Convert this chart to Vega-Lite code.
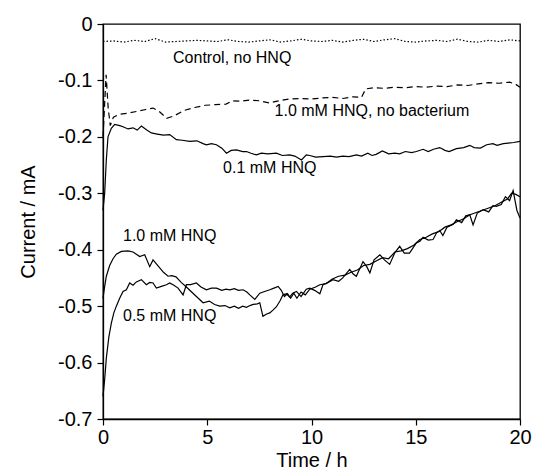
{
  "$schema": "https://vega.github.io/schema/vega-lite/v6.json",
  "autosize": "none",
  "padding": {"left": 103, "top": 24, "right": 13, "bottom": 56},
  "width": 417,
  "height": 395,
  "background": "white",
  "config": {
    "locale": {"number": {"decimal": ".", "thousands": ",", "grouping": [3], "currency": ["$", ""], "minus": "-"}},
    "view": {"stroke": "#000000", "strokeWidth": 1.3},
    "font": "Liberation Sans",
    "axis": {
      "grid": false,
      "labelFlush": false,
      "domainColor": "#000000",
      "domainWidth": 1.3,
      "tickColor": "#000000",
      "tickWidth": 1.2,
      "tickSize": 6,
      "labelColor": "#000000",
      "labelFont": "Liberation Sans",
      "labelFontSize": 20,
      "titleFont": "Liberation Sans",
      "titleFontSize": 20,
      "titleFontWeight": "normal",
      "titleColor": "#000000"
    }
  },
  "datasets": {
    "curves": [
      {"t": 0, "i": -0.031, "s": "control"}, {"t": 0.5, "i": -0.030, "s": "control"}, {"t": 1, "i": -0.032, "s": "control"}, {"t": 1.5, "i": -0.029, "s": "control"}, {"t": 2, "i": -0.031, "s": "control"}, {"t": 2.5, "i": -0.026, "s": "control"}, {"t": 3, "i": -0.032, "s": "control"}, {"t": 3.5, "i": -0.031, "s": "control"}, {"t": 4, "i": -0.030, "s": "control"}, {"t": 4.5, "i": -0.029, "s": "control"}, {"t": 5, "i": -0.030, "s": "control"}, {"t": 5.5, "i": -0.031, "s": "control"}, {"t": 6, "i": -0.028, "s": "control"}, {"t": 6.5, "i": -0.031, "s": "control"}, {"t": 7, "i": -0.032, "s": "control"}, {"t": 7.5, "i": -0.030, "s": "control"}, {"t": 8, "i": -0.028, "s": "control"}, {"t": 8.5, "i": -0.032, "s": "control"}, {"t": 9, "i": -0.030, "s": "control"}, {"t": 9.5, "i": -0.027, "s": "control"}, {"t": 10, "i": -0.030, "s": "control"}, {"t": 10.5, "i": -0.031, "s": "control"}, {"t": 11, "i": -0.029, "s": "control"}, {"t": 11.5, "i": -0.032, "s": "control"}, {"t": 12, "i": -0.029, "s": "control"}, {"t": 12.5, "i": -0.027, "s": "control"}, {"t": 13, "i": -0.031, "s": "control"}, {"t": 13.5, "i": -0.028, "s": "control"}, {"t": 14, "i": -0.026, "s": "control"}, {"t": 14.5, "i": -0.031, "s": "control"}, {"t": 15, "i": -0.032, "s": "control"}, {"t": 15.5, "i": -0.030, "s": "control"}, {"t": 16, "i": -0.029, "s": "control"}, {"t": 16.5, "i": -0.031, "s": "control"}, {"t": 17, "i": -0.027, "s": "control"}, {"t": 17.5, "i": -0.031, "s": "control"}, {"t": 18, "i": -0.032, "s": "control"}, {"t": 18.5, "i": -0.029, "s": "control"}, {"t": 19, "i": -0.031, "s": "control"}, {"t": 19.5, "i": -0.028, "s": "control"}, {"t": 20, "i": -0.030, "s": "control"},

      {"t": 0, "i": -0.20, "s": "nobact"}, {"t": 0.08, "i": -0.14, "s": "nobact"}, {"t": 0.15, "i": -0.09, "s": "nobact"}, {"t": 0.25, "i": -0.15, "s": "nobact"}, {"t": 0.35, "i": -0.18, "s": "nobact"}, {"t": 0.5, "i": -0.165, "s": "nobact"}, {"t": 0.8, "i": -0.16, "s": "nobact"}, {"t": 1.2, "i": -0.158, "s": "nobact"}, {"t": 1.6, "i": -0.155, "s": "nobact"}, {"t": 2.0, "i": -0.152, "s": "nobact"}, {"t": 2.4, "i": -0.149, "s": "nobact"}, {"t": 2.7, "i": -0.155, "s": "nobact"}, {"t": 3.05, "i": -0.167, "s": "nobact"}, {"t": 3.4, "i": -0.163, "s": "nobact"}, {"t": 3.9, "i": -0.153, "s": "nobact"}, {"t": 4.4, "i": -0.148, "s": "nobact"}, {"t": 4.9, "i": -0.144, "s": "nobact"}, {"t": 5.4, "i": -0.143, "s": "nobact"}, {"t": 5.9, "i": -0.142, "s": "nobact"}, {"t": 6.2, "i": -0.136, "s": "nobact"}, {"t": 6.6, "i": -0.137, "s": "nobact"}, {"t": 7.0, "i": -0.135, "s": "nobact"}, {"t": 7.5, "i": -0.136, "s": "nobact"}, {"t": 8.0, "i": -0.14, "s": "nobact"}, {"t": 8.3, "i": -0.137, "s": "nobact"}, {"t": 8.9, "i": -0.133, "s": "nobact"}, {"t": 9.5, "i": -0.132, "s": "nobact"}, {"t": 10.0, "i": -0.133, "s": "nobact"}, {"t": 10.5, "i": -0.131, "s": "nobact"}, {"t": 11.0, "i": -0.130, "s": "nobact"}, {"t": 11.5, "i": -0.132, "s": "nobact"}, {"t": 12.0, "i": -0.129, "s": "nobact"}, {"t": 12.4, "i": -0.13, "s": "nobact"}, {"t": 12.6, "i": -0.115, "s": "nobact"}, {"t": 13.0, "i": -0.113, "s": "nobact"}, {"t": 13.5, "i": -0.114, "s": "nobact"}, {"t": 14.0, "i": -0.112, "s": "nobact"}, {"t": 14.5, "i": -0.113, "s": "nobact"}, {"t": 15.0, "i": -0.111, "s": "nobact"}, {"t": 15.5, "i": -0.112, "s": "nobact"}, {"t": 16.0, "i": -0.110, "s": "nobact"}, {"t": 16.5, "i": -0.111, "s": "nobact"}, {"t": 17.0, "i": -0.108, "s": "nobact"}, {"t": 17.5, "i": -0.109, "s": "nobact"}, {"t": 18.0, "i": -0.106, "s": "nobact"}, {"t": 18.5, "i": -0.104, "s": "nobact"}, {"t": 19.0, "i": -0.105, "s": "nobact"}, {"t": 19.5, "i": -0.103, "s": "nobact"}, {"t": 19.8, "i": -0.107, "s": "nobact"}, {"t": 20.0, "i": -0.112, "s": "nobact"},

      {"t": 0, "i": -0.33, "s": "hnq01"}, {"t": 0.08, "i": -0.30, "s": "hnq01"}, {"t": 0.16, "i": -0.24, "s": "hnq01"}, {"t": 0.24, "i": -0.20, "s": "hnq01"}, {"t": 0.4, "i": -0.185, "s": "hnq01"}, {"t": 0.56, "i": -0.178, "s": "hnq01"}, {"t": 0.8, "i": -0.18, "s": "hnq01"}, {"t": 0.96, "i": -0.182, "s": "hnq01"}, {"t": 1.2, "i": -0.186, "s": "hnq01"}, {"t": 1.44, "i": -0.184, "s": "hnq01"}, {"t": 1.64, "i": -0.188, "s": "hnq01"}, {"t": 1.84, "i": -0.181, "s": "hnq01"}, {"t": 2.1, "i": -0.188, "s": "hnq01"}, {"t": 2.32, "i": -0.193, "s": "hnq01"}, {"t": 2.6, "i": -0.195, "s": "hnq01"}, {"t": 2.9, "i": -0.197, "s": "hnq01"}, {"t": 3.2, "i": -0.196, "s": "hnq01"}, {"t": 3.52, "i": -0.205, "s": "hnq01"}, {"t": 3.8, "i": -0.206, "s": "hnq01"}, {"t": 4.16, "i": -0.208, "s": "hnq01"}, {"t": 4.5, "i": -0.207, "s": "hnq01"}, {"t": 4.8, "i": -0.212, "s": "hnq01"}, {"t": 4.96, "i": -0.214, "s": "hnq01"}, {"t": 5.2, "i": -0.212, "s": "hnq01"}, {"t": 5.44, "i": -0.214, "s": "hnq01"}, {"t": 5.7, "i": -0.22, "s": "hnq01"}, {"t": 5.92, "i": -0.229, "s": "hnq01"}, {"t": 6.15, "i": -0.224, "s": "hnq01"}, {"t": 6.4, "i": -0.223, "s": "hnq01"}, {"t": 6.7, "i": -0.226, "s": "hnq01"}, {"t": 6.88, "i": -0.226, "s": "hnq01"}, {"t": 7.1, "i": -0.229, "s": "hnq01"}, {"t": 7.36, "i": -0.232, "s": "hnq01"}, {"t": 7.6, "i": -0.229, "s": "hnq01"}, {"t": 7.9, "i": -0.23, "s": "hnq01"}, {"t": 8.32, "i": -0.229, "s": "hnq01"}, {"t": 8.6, "i": -0.233, "s": "hnq01"}, {"t": 8.95, "i": -0.232, "s": "hnq01"}, {"t": 9.2, "i": -0.234, "s": "hnq01"}, {"t": 9.52, "i": -0.241, "s": "hnq01"}, {"t": 9.75, "i": -0.232, "s": "hnq01"}, {"t": 9.92, "i": -0.233, "s": "hnq01"}, {"t": 10.2, "i": -0.236, "s": "hnq01"}, {"t": 10.55, "i": -0.235, "s": "hnq01"}, {"t": 10.9, "i": -0.234, "s": "hnq01"}, {"t": 11.2, "i": -0.236, "s": "hnq01"}, {"t": 11.5, "i": -0.234, "s": "hnq01"}, {"t": 11.8, "i": -0.235, "s": "hnq01"}, {"t": 12.15, "i": -0.232, "s": "hnq01"}, {"t": 12.4, "i": -0.234, "s": "hnq01"}, {"t": 12.7, "i": -0.229, "s": "hnq01"}, {"t": 12.9, "i": -0.233, "s": "hnq01"}, {"t": 13.1, "i": -0.231, "s": "hnq01"}, {"t": 13.4, "i": -0.225, "s": "hnq01"}, {"t": 13.7, "i": -0.23, "s": "hnq01"}, {"t": 14.0, "i": -0.229, "s": "hnq01"}, {"t": 14.23, "i": -0.23, "s": "hnq01"}, {"t": 14.5, "i": -0.226, "s": "hnq01"}, {"t": 14.8, "i": -0.228, "s": "hnq01"}, {"t": 15.03, "i": -0.226, "s": "hnq01"}, {"t": 15.35, "i": -0.222, "s": "hnq01"}, {"t": 15.6, "i": -0.226, "s": "hnq01"}, {"t": 15.85, "i": -0.222, "s": "hnq01"}, {"t": 16.15, "i": -0.219, "s": "hnq01"}, {"t": 16.4, "i": -0.224, "s": "hnq01"}, {"t": 16.6, "i": -0.226, "s": "hnq01"}, {"t": 16.95, "i": -0.221, "s": "hnq01"}, {"t": 17.3, "i": -0.219, "s": "hnq01"}, {"t": 17.59, "i": -0.215, "s": "hnq01"}, {"t": 17.8, "i": -0.219, "s": "hnq01"}, {"t": 18.1, "i": -0.22, "s": "hnq01"}, {"t": 18.4, "i": -0.214, "s": "hnq01"}, {"t": 18.7, "i": -0.212, "s": "hnq01"}, {"t": 18.9, "i": -0.215, "s": "hnq01"}, {"t": 19.2, "i": -0.212, "s": "hnq01"}, {"t": 19.43, "i": -0.211, "s": "hnq01"}, {"t": 19.7, "i": -0.21, "s": "hnq01"}, {"t": 20.0, "i": -0.208, "s": "hnq01"},

      {"t": 0, "i": -0.486, "s": "hnq10"}, {"t": 0.08, "i": -0.465, "s": "hnq10"}, {"t": 0.16, "i": -0.447, "s": "hnq10"}, {"t": 0.32, "i": -0.428, "s": "hnq10"}, {"t": 0.48, "i": -0.416, "s": "hnq10"}, {"t": 0.64, "i": -0.408, "s": "hnq10"}, {"t": 0.88, "i": -0.403, "s": "hnq10"}, {"t": 1.2, "i": -0.402, "s": "hnq10"}, {"t": 1.44, "i": -0.404, "s": "hnq10"}, {"t": 1.6, "i": -0.408, "s": "hnq10"}, {"t": 1.76, "i": -0.412, "s": "hnq10"}, {"t": 2.0, "i": -0.409, "s": "hnq10"}, {"t": 2.24, "i": -0.43, "s": "hnq10"}, {"t": 2.4, "i": -0.418, "s": "hnq10"}, {"t": 2.56, "i": -0.425, "s": "hnq10"}, {"t": 2.72, "i": -0.432, "s": "hnq10"}, {"t": 2.9, "i": -0.44, "s": "hnq10"}, {"t": 3.12, "i": -0.447, "s": "hnq10"}, {"t": 3.3, "i": -0.446, "s": "hnq10"}, {"t": 3.5, "i": -0.448, "s": "hnq10"}, {"t": 3.75, "i": -0.458, "s": "hnq10"}, {"t": 4.0, "i": -0.466, "s": "hnq10"}, {"t": 4.25, "i": -0.475, "s": "hnq10"}, {"t": 4.48, "i": -0.483, "s": "hnq10"}, {"t": 4.8, "i": -0.494, "s": "hnq10"}, {"t": 5.1, "i": -0.491, "s": "hnq10"}, {"t": 5.35, "i": -0.497, "s": "hnq10"}, {"t": 5.6, "i": -0.5, "s": "hnq10"}, {"t": 5.85, "i": -0.499, "s": "hnq10"}, {"t": 6.08, "i": -0.503, "s": "hnq10"}, {"t": 6.3, "i": -0.5, "s": "hnq10"}, {"t": 6.5, "i": -0.504, "s": "hnq10"}, {"t": 6.7, "i": -0.5, "s": "hnq10"}, {"t": 6.88, "i": -0.502, "s": "hnq10"}, {"t": 7.05, "i": -0.499, "s": "hnq10"}, {"t": 7.2, "i": -0.497, "s": "hnq10"}, {"t": 7.4, "i": -0.496, "s": "hnq10"}, {"t": 7.52, "i": -0.494, "s": "hnq10"}, {"t": 7.67, "i": -0.518, "s": "hnq10"}, {"t": 7.85, "i": -0.514, "s": "hnq10"}, {"t": 8.0, "i": -0.512, "s": "hnq10"}, {"t": 8.15, "i": -0.507, "s": "hnq10"}, {"t": 8.32, "i": -0.501, "s": "hnq10"}, {"t": 8.5, "i": -0.49, "s": "hnq10"}, {"t": 8.63, "i": -0.48, "s": "hnq10"}, {"t": 8.8, "i": -0.478, "s": "hnq10"}, {"t": 8.95, "i": -0.484, "s": "hnq10"}, {"t": 9.1, "i": -0.477, "s": "hnq10"}, {"t": 9.28, "i": -0.474, "s": "hnq10"}, {"t": 9.5, "i": -0.483, "s": "hnq10"}, {"t": 9.75, "i": -0.47, "s": "hnq10"}, {"t": 9.92, "i": -0.468, "s": "hnq10"}, {"t": 10.15, "i": -0.472, "s": "hnq10"}, {"t": 10.4, "i": -0.478, "s": "hnq10"}, {"t": 10.55, "i": -0.462, "s": "hnq10"}, {"t": 10.8, "i": -0.458, "s": "hnq10"}, {"t": 11.03, "i": -0.453, "s": "hnq10"}, {"t": 11.3, "i": -0.456, "s": "hnq10"}, {"t": 11.5, "i": -0.45, "s": "hnq10"}, {"t": 11.83, "i": -0.435, "s": "hnq10"}, {"t": 12.0, "i": -0.443, "s": "hnq10"}, {"t": 12.15, "i": -0.447, "s": "hnq10"}, {"t": 12.47, "i": -0.421, "s": "hnq10"}, {"t": 12.65, "i": -0.43, "s": "hnq10"}, {"t": 12.8, "i": -0.441, "s": "hnq10"}, {"t": 13.0, "i": -0.418, "s": "hnq10"}, {"t": 13.28, "i": -0.409, "s": "hnq10"}, {"t": 13.5, "i": -0.418, "s": "hnq10"}, {"t": 13.75, "i": -0.426, "s": "hnq10"}, {"t": 14.0, "i": -0.405, "s": "hnq10"}, {"t": 14.23, "i": -0.394, "s": "hnq10"}, {"t": 14.45, "i": -0.406, "s": "hnq10"}, {"t": 14.7, "i": -0.406, "s": "hnq10"}, {"t": 15.03, "i": -0.388, "s": "hnq10"}, {"t": 15.2, "i": -0.385, "s": "hnq10"}, {"t": 15.35, "i": -0.378, "s": "hnq10"}, {"t": 15.6, "i": -0.383, "s": "hnq10"}, {"t": 15.83, "i": -0.382, "s": "hnq10"}, {"t": 16.0, "i": -0.37, "s": "hnq10"}, {"t": 16.15, "i": -0.366, "s": "hnq10"}, {"t": 16.3, "i": -0.375, "s": "hnq10"}, {"t": 16.5, "i": -0.36, "s": "hnq10"}, {"t": 16.8, "i": -0.355, "s": "hnq10"}, {"t": 16.95, "i": -0.347, "s": "hnq10"}, {"t": 17.2, "i": -0.352, "s": "hnq10"}, {"t": 17.4, "i": -0.34, "s": "hnq10"}, {"t": 17.59, "i": -0.338, "s": "hnq10"}, {"t": 17.75, "i": -0.356, "s": "hnq10"}, {"t": 17.95, "i": -0.335, "s": "hnq10"}, {"t": 18.23, "i": -0.329, "s": "hnq10"}, {"t": 18.5, "i": -0.333, "s": "hnq10"}, {"t": 18.7, "i": -0.322, "s": "hnq10"}, {"t": 18.87, "i": -0.323, "s": "hnq10"}, {"t": 19.1, "i": -0.32, "s": "hnq10"}, {"t": 19.3, "i": -0.306, "s": "hnq10"}, {"t": 19.5, "i": -0.313, "s": "hnq10"}, {"t": 19.67, "i": -0.295, "s": "hnq10"}, {"t": 19.85, "i": -0.33, "s": "hnq10"}, {"t": 20.0, "i": -0.344, "s": "hnq10"},

      {"t": 0, "i": -0.66, "s": "hnq05"}, {"t": 0.08, "i": -0.63, "s": "hnq05"}, {"t": 0.16, "i": -0.592, "s": "hnq05"}, {"t": 0.28, "i": -0.555, "s": "hnq05"}, {"t": 0.4, "i": -0.53, "s": "hnq05"}, {"t": 0.52, "i": -0.512, "s": "hnq05"}, {"t": 0.64, "i": -0.5, "s": "hnq05"}, {"t": 0.8, "i": -0.486, "s": "hnq05"}, {"t": 0.96, "i": -0.474, "s": "hnq05"}, {"t": 1.12, "i": -0.471, "s": "hnq05"}, {"t": 1.28, "i": -0.459, "s": "hnq05"}, {"t": 1.44, "i": -0.463, "s": "hnq05"}, {"t": 1.6, "i": -0.457, "s": "hnq05"}, {"t": 1.84, "i": -0.453, "s": "hnq05"}, {"t": 2.08, "i": -0.462, "s": "hnq05"}, {"t": 2.24, "i": -0.458, "s": "hnq05"}, {"t": 2.4, "i": -0.459, "s": "hnq05"}, {"t": 2.56, "i": -0.468, "s": "hnq05"}, {"t": 2.8, "i": -0.465, "s": "hnq05"}, {"t": 3.04, "i": -0.462, "s": "hnq05"}, {"t": 3.2, "i": -0.459, "s": "hnq05"}, {"t": 3.4, "i": -0.463, "s": "hnq05"}, {"t": 3.6, "i": -0.468, "s": "hnq05"}, {"t": 3.84, "i": -0.48, "s": "hnq05"}, {"t": 4.0, "i": -0.462, "s": "hnq05"}, {"t": 4.2, "i": -0.462, "s": "hnq05"}, {"t": 4.48, "i": -0.459, "s": "hnq05"}, {"t": 4.7, "i": -0.466, "s": "hnq05"}, {"t": 4.96, "i": -0.471, "s": "hnq05"}, {"t": 5.2, "i": -0.468, "s": "hnq05"}, {"t": 5.44, "i": -0.468, "s": "hnq05"}, {"t": 5.7, "i": -0.472, "s": "hnq05"}, {"t": 5.9, "i": -0.47, "s": "hnq05"}, {"t": 6.08, "i": -0.471, "s": "hnq05"}, {"t": 6.3, "i": -0.469, "s": "hnq05"}, {"t": 6.5, "i": -0.472, "s": "hnq05"}, {"t": 6.72, "i": -0.471, "s": "hnq05"}, {"t": 6.9, "i": -0.475, "s": "hnq05"}, {"t": 7.04, "i": -0.48, "s": "hnq05"}, {"t": 7.28, "i": -0.488, "s": "hnq05"}, {"t": 7.52, "i": -0.477, "s": "hnq05"}, {"t": 7.75, "i": -0.474, "s": "hnq05"}, {"t": 8.0, "i": -0.471, "s": "hnq05"}, {"t": 8.2, "i": -0.468, "s": "hnq05"}, {"t": 8.4, "i": -0.465, "s": "hnq05"}, {"t": 8.55, "i": -0.472, "s": "hnq05"}, {"t": 8.7, "i": -0.483, "s": "hnq05"}, {"t": 8.85, "i": -0.478, "s": "hnq05"}, {"t": 9.0, "i": -0.486, "s": "hnq05"}, {"t": 9.15, "i": -0.477, "s": "hnq05"}, {"t": 9.3, "i": -0.486, "s": "hnq05"}, {"t": 9.5, "i": -0.475, "s": "hnq05"}, {"t": 9.7, "i": -0.48, "s": "hnq05"}, {"t": 9.92, "i": -0.47, "s": "hnq05"}, {"t": 10.2, "i": -0.466, "s": "hnq05"}, {"t": 10.4, "i": -0.462, "s": "hnq05"}, {"t": 10.7, "i": -0.46, "s": "hnq05"}, {"t": 11.0, "i": -0.452, "s": "hnq05"}, {"t": 11.3, "i": -0.447, "s": "hnq05"}, {"t": 11.6, "i": -0.445, "s": "hnq05"}, {"t": 11.9, "i": -0.44, "s": "hnq05"}, {"t": 12.2, "i": -0.436, "s": "hnq05"}, {"t": 12.5, "i": -0.428, "s": "hnq05"}, {"t": 12.8, "i": -0.426, "s": "hnq05"}, {"t": 13.1, "i": -0.42, "s": "hnq05"}, {"t": 13.4, "i": -0.414, "s": "hnq05"}, {"t": 13.7, "i": -0.416, "s": "hnq05"}, {"t": 14.0, "i": -0.404, "s": "hnq05"}, {"t": 14.3, "i": -0.402, "s": "hnq05"}, {"t": 14.6, "i": -0.398, "s": "hnq05"}, {"t": 14.9, "i": -0.392, "s": "hnq05"}, {"t": 15.2, "i": -0.382, "s": "hnq05"}, {"t": 15.5, "i": -0.378, "s": "hnq05"}, {"t": 15.8, "i": -0.372, "s": "hnq05"}, {"t": 16.1, "i": -0.368, "s": "hnq05"}, {"t": 16.4, "i": -0.36, "s": "hnq05"}, {"t": 16.7, "i": -0.356, "s": "hnq05"}, {"t": 17.0, "i": -0.35, "s": "hnq05"}, {"t": 17.3, "i": -0.345, "s": "hnq05"}, {"t": 17.6, "i": -0.338, "s": "hnq05"}, {"t": 17.9, "i": -0.334, "s": "hnq05"}, {"t": 18.2, "i": -0.33, "s": "hnq05"}, {"t": 18.5, "i": -0.326, "s": "hnq05"}, {"t": 18.8, "i": -0.322, "s": "hnq05"}, {"t": 19.1, "i": -0.316, "s": "hnq05"}, {"t": 19.4, "i": -0.31, "s": "hnq05"}, {"t": 19.6, "i": -0.3, "s": "hnq05"}, {"t": 19.8, "i": -0.302, "s": "hnq05"}, {"t": 20.0, "i": -0.306, "s": "hnq05"}
    ],
    "labels": [
      {"t": 3.36, "i": -0.060, "label": "Control, no HNQ"},
      {"t": 8.23, "i": -0.155, "label": "1.0 mM HNQ, no bacterium"},
      {"t": 5.76, "i": -0.255, "label": "0.1 mM HNQ"},
      {"t": 0.96, "i": -0.376, "label": "1.0 mM HNQ"},
      {"t": 0.96, "i": -0.517, "label": "0.5 mM HNQ"}
    ]
  },
  "layer": [
    {
      "data": {"name": "curves"},
      "transform": [{"filter": "datum.s == 'control'"}],
      "mark": {"type": "line", "color": "#000000", "strokeWidth": 1.2, "strokeDash": [1.5, 2]},
      "encoding": {
        "x": {"field": "t", "type": "quantitative",
              "scale": {"domain": [0, 20], "nice": false, "zero": false},
              "axis": {"orient": "bottom", "values": [0, 5, 10, 15, 20], "format": "d", "title": "Time / h",
                       "labelPadding": 2, "titlePadding": 3}},
        "y": {"field": "i", "type": "quantitative",
              "scale": {"domain": [-0.7, 0], "nice": false, "zero": false},
              "axis": {"orient": "left", "values": [0, -0.1, -0.2, -0.3, -0.4, -0.5, -0.6, -0.7], "format": "~g", "title": "Current / mA",
                       "labelPadding": 5, "titlePadding": 19}}
      }
    },
    {
      "data": {"name": "curves"},
      "transform": [{"filter": "datum.s == 'nobact'"}],
      "mark": {"type": "line", "color": "#000000", "strokeWidth": 1.2, "strokeDash": [6, 4]},
      "encoding": {
        "x": {"field": "t", "type": "quantitative"},
        "y": {"field": "i", "type": "quantitative"}
      }
    },
    {
      "data": {"name": "curves"},
      "transform": [{"filter": "datum.s != 'control' && datum.s != 'nobact'"}],
      "mark": {"type": "line", "color": "#000000", "strokeWidth": 1.2},
      "encoding": {
        "x": {"field": "t", "type": "quantitative"},
        "y": {"field": "i", "type": "quantitative"},
        "detail": {"field": "s", "type": "nominal"}
      }
    },
    {
      "data": {"name": "labels"},
      "mark": {"type": "text", "align": "left", "baseline": "middle", "fontSize": 16, "font": "Liberation Sans", "color": "#000000"},
      "encoding": {
        "x": {"field": "t", "type": "quantitative"},
        "y": {"field": "i", "type": "quantitative"},
        "text": {"field": "label", "type": "nominal"}
      }
    }
  ]
}
